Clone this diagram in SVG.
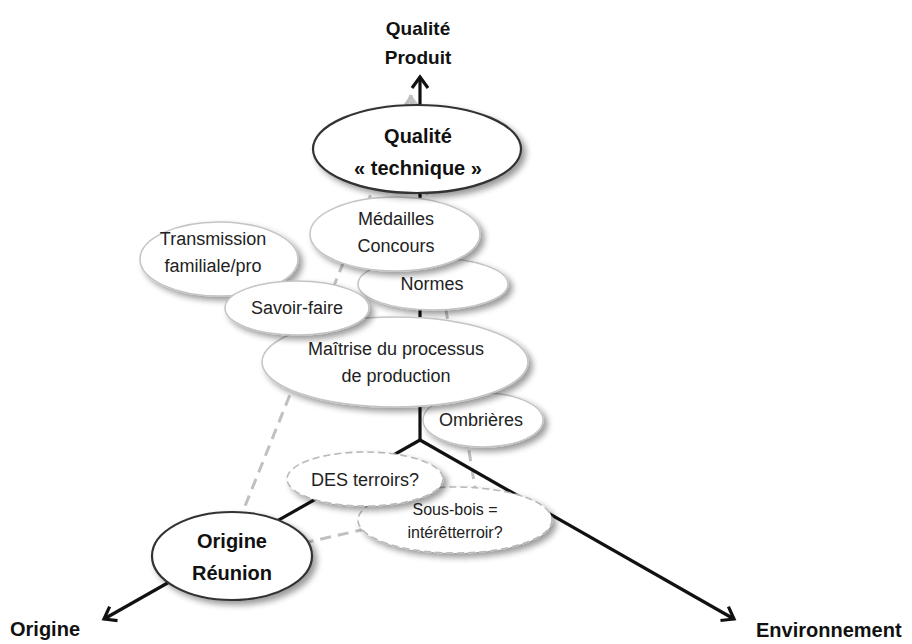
<svg xmlns="http://www.w3.org/2000/svg" width="912" height="644" viewBox="0 0 912 644">
<style>
.t{font-family:"Liberation Sans",Arial,sans-serif;font-size:18px;fill:#222;text-anchor:middle}
.b{font-family:"Liberation Sans",Arial,sans-serif;font-size:20px;font-weight:bold;fill:#111;text-anchor:middle}
.s{font-size:16px}
.n{fill:#fff;stroke:#c4c4c4;stroke-width:1.5}
.k{fill:#fff;stroke:#333;stroke-width:2.2}
.d{fill:#fff;stroke:#b8b8b8;stroke-width:1.6;stroke-dasharray:7 4}
.g{fill:none;stroke:#c0c0c0;stroke-width:3;stroke-dasharray:11 7}
.ax{fill:none;stroke:#111;stroke-width:3.2}
</style>
<defs>
<filter id="sh" x="-20%" y="-25%" width="150%" height="160%">
<feGaussianBlur in="SourceAlpha" stdDeviation="3"/>
<feOffset dx="4" dy="4" result="o"/>
<feComponentTransfer><feFuncA type="linear" slope="0.4"/></feComponentTransfer>
<feMerge><feMergeNode/><feMergeNode in="SourceGraphic"/></feMerge>
</filter>
<marker id="ah" markerUnits="userSpaceOnUse" markerWidth="24" markerHeight="24" viewBox="-14 -12 24 24" refX="0" refY="0" orient="auto" overflow="visible">
<path d="M-11,-8 L0,0 L-11,8" fill="none" stroke="#111" stroke-width="3.2"/>
</marker>
<marker id="gh" markerUnits="userSpaceOnUse" markerWidth="24" markerHeight="24" viewBox="-14 -12 24 24" refX="0" refY="0" orient="auto" overflow="visible">
<path d="M-8,-6 L0,0 L-8,6" fill="none" stroke="#c8c8c8" stroke-width="3"/>
</marker>
</defs>
<rect width="912" height="644" fill="#fff"/>
<g id="connectors">
<path class="g" d="M411,130 L411,97" marker-end="url(#gh)"/>
<path class="g" d="M411,95 L241,516"/>
<path class="g" d="M411,95 L477,500"/>
<path class="g" d="M250,555 L477,504"/>
<path class="ax" d="M420,440 L420,77" marker-end="url(#ah)"/>
<path class="ax" d="M420,440 L104,619" marker-end="url(#ah)"/>
<path class="ax" d="M420,440 L734,619" marker-end="url(#ah)"/>
</g>
<g id="axis-labels">
<text class="b" x="418" y="35" style="font-size:19px">Qualité</text>
<text class="b" x="418" y="64" style="font-size:19px">Produit</text>
<text class="b" x="10" y="636" style="text-anchor:start">Origine</text>
<text class="b" x="756" y="637" style="text-anchor:start">Environnement</text>
</g>
<g id="transmission">
<ellipse class="n" filter="url(#sh)" cx="219" cy="259" rx="79" ry="37"/>
<text class="t" x="213" y="245">Transmission</text>
<text class="t" x="213" y="272">familiale/pro</text>
</g>
<g id="normes">
<ellipse class="n" filter="url(#sh)" cx="433" cy="284" rx="75" ry="26"/>
<text class="t" x="432" y="290">Normes</text>
</g>
<g id="medailles">
<ellipse class="n" filter="url(#sh)" cx="395" cy="234" rx="85" ry="37"/>
<text class="t" x="396" y="225">Médailles</text>
<text class="t" x="396" y="252">Concours</text>
</g>
<g id="qualite-technique">
<ellipse class="k" filter="url(#sh)" cx="417" cy="149" rx="104" ry="44"/>
<text class="b" x="418" y="143">Qualité</text>
<text class="b" x="418" y="175">« technique »</text>
</g>
<g id="ombrieres">
<ellipse class="n" filter="url(#sh)" cx="483" cy="420" rx="60" ry="27"/>
<text class="t" x="481" y="426">Ombrières</text>
</g>
<g id="maitrise">
<ellipse class="n" filter="url(#sh)" cx="395" cy="362" rx="133" ry="45"/>
<text class="t" x="396" y="355">Maîtrise du processus</text>
<text class="t" x="396" y="382">de production</text>
</g>
<g id="savoir-faire">
<ellipse class="n" filter="url(#sh)" cx="297" cy="308" rx="72" ry="27"/>
<text class="t" x="297" y="314">Savoir-faire</text>
</g>
<g id="sous-bois">
<ellipse class="d" filter="url(#sh)" cx="455" cy="520" rx="97" ry="33"/>
<text class="t s" x="455" y="515">Sous-bois =</text>
<text class="t s" x="455" y="538">intérêtterroir?</text>
</g>
<g id="des-terroirs">
<ellipse class="d" filter="url(#sh)" cx="365" cy="479" rx="78" ry="27"/>
<text class="t" x="365" y="486">DES terroirs?</text>
</g>
<g id="origine-reunion">
<ellipse class="k" filter="url(#sh)" cx="232" cy="556" rx="80" ry="44"/>
<text class="b" x="232" y="548">Origine</text>
<text class="b" x="232" y="580">Réunion</text>
</g>
</svg>
